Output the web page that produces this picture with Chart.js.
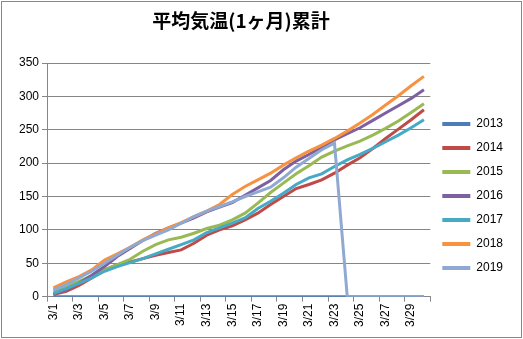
<!DOCTYPE html>
<html>
<head>
<meta charset="utf-8">
<script src="https://cdn.jsdelivr.net/npm/chart.js@4"></script>
<style>
body{margin:0;background:#fff;}
#wrap{position:relative;width:523px;height:339px;}
#frame{position:absolute;left:1px;top:1px;width:519px;height:335px;border:1px solid #888;pointer-events:none;}
</style>
</head>
<body>
<div id="wrap"><canvas id="tempChart" width="523" height="339"></canvas><div id="frame"></div></div>
<script>
/***** 平均気温 累計 (3月) *****/
const titleText = "平均気温(1ヶ月)累計";
const dates = ["3/1","3/2","3/3","3/4","3/5","3/6","3/7","3/8","3/9","3/10",
               "3/11","3/12","3/13","3/14","3/15","3/16","3/17","3/18","3/19","3/20",
               "3/21","3/22","3/23","3/24","3/25","3/26","3/27","3/28","3/29","3/30"];
const years = ["2013","2014","2015","2016","2017","2018","2019"];
const t2013 = [0,0,0,0,0,0,0,0,0,0,0,0,0,0,0,0,0,0,0,0,0,0,0,0,0,0,0,0,0,0];
const t2014 = [3,8,17,28,40,48,52,57,62,66,70,80,92,100,106,115,125,138,150,162,168,175,185,197,208,222,237,251,265,280];
const t2015 = [8,15,23,31,40,48,56,68,78,85,89,95,102,107,115,125,140,156,170,184,196,209,218,226,233,242,252,263,276,289];
const t2016 = [4,10,20,32,45,60,72,84,95,103,110,118,127,134,141,152,163,174,190,203,213,224,235,244,253,264,275,286,297,310];
const t2017 = [5,12,20,28,38,45,51,57,64,71,78,85,96,103,110,118,132,143,155,168,178,184,195,205,213,222,232,242,253,265];
const t2018 = [13,22,30,40,55,64,74,85,94,103,111,120,128,138,153,165,175,185,197,208,218,227,237,248,260,273,287,301,316,330];
const t2019 = [10,18,28,38,50,62,74,84,92,100,110,120,128,135,142,150,157,164,178,194,207,220,230,0,0,0,0,0,0,0];
const yearColors = ["#4A7EBB","#BE4B48","#98B954","#7D60A0","#46AAC5","#F69240","#8FA9D2"];

const series = [t2013, t2014, t2015, t2016, t2017, t2018, t2019];
const gridGray = "#868686";

// title drawn over the plot area
const chartTitle = {
    id: "chartTitle",
    afterDraw(chart){
        const ctx = chart.ctx;
        ctx.save();
        ctx.font = 'bold 19px "Noto Sans CJK JP"';
        ctx.fillStyle = "#000";
        ctx.textAlign = "center";
        ctx.textBaseline = "middle";
        ctx.fillText(titleText, 241, 21);
        ctx.restore();
    },
};

const tempCtx = document.getElementById("tempChart").getContext("2d");
let tempChart = new Chart(tempCtx,{
    type: "line",
    data:{
        labels: dates,
        datasets: series.map((vals, i) => ({
            label: years[i],
            data: vals,
            borderColor: yearColors[i],
            backgroundColor: yearColors[i],
            borderWidth: 3,
            pointRadius: 0,
            tension: 0,
            fill: false,
            order: series.length - i,
        })),
    },
    options:{
        responsive: false,
        animation: false,
        layout:{
            padding:{top: 63, left: 16, right: 10, bottom: 10},
        },
        plugins:{
            legend:{
                position: "right",
                labels:{
                    boxWidth: 28,
                    boxHeight: 4,
                    padding: 12,
                    color: "#000",
                    font:{family: "Liberation Sans", size: 12},
                    sort: (a, b) => a.datasetIndex - b.datasetIndex,
                    generateLabels(chart){
                        return Chart.defaults.plugins.legend.labels.generateLabels(chart)
                            .map(item => ({...item, lineWidth: 0}));
                    },
                },
            },
            tooltip:{enabled: false},
        },
        scales:{
            x:{
                offset: true,
                grid:{
                    offset: true,
                    drawOnChartArea: false,
                    tickLength: 5,
                    color: ctx => ((ctx.index ?? dates.length) % 2 === 0 ? gridGray : "rgba(0,0,0,0)"),
                },
                border:{color: gridGray},
                ticks:{
                    autoSkip: false,
                    minRotation: 90,
                    maxRotation: 90,
                    color: "#000",
                    font:{family: "Liberation Sans", size: 12},
                    padding: 2,
                    callback: (value, index) => (index % 2 === 0 ? dates[index] : ""),
                },
            },
            y:{
                min: 0,
                max: 350,
                grid:{color: gridGray, tickLength: 5},
                border:{color: gridGray},
                ticks:{
                    stepSize: 50,
                    color: "#000",
                    font:{family: "Liberation Sans", size: 12},
                    padding: 3,
                },
            },
        },
    },
    plugins: [chartTitle],
});
</script>
</body>
</html>
